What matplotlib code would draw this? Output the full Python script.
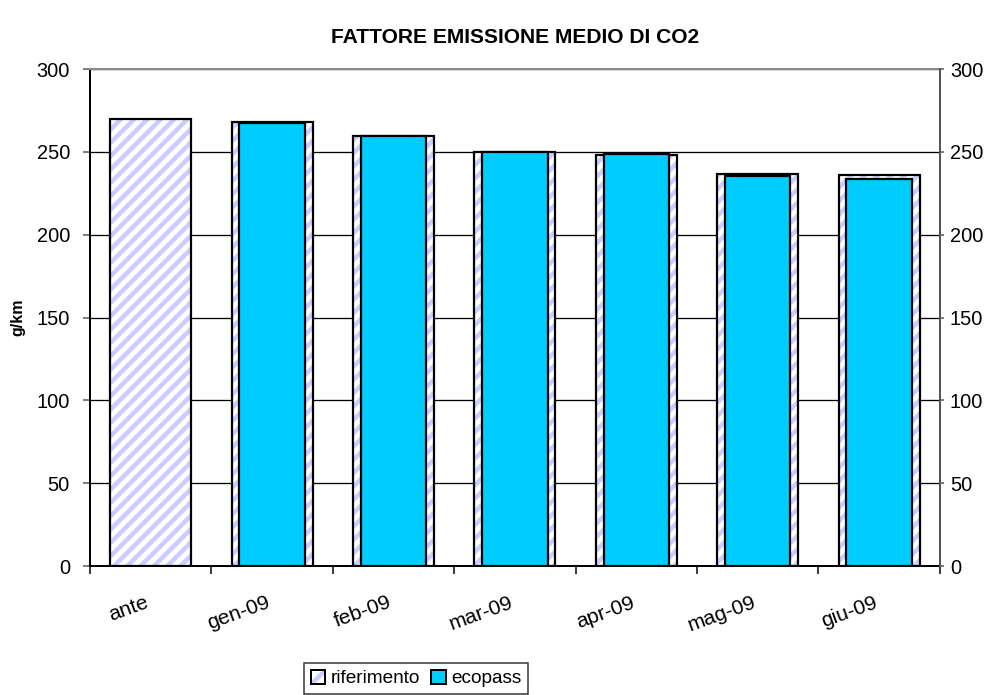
import numpy as np
import matplotlib.pyplot as plt
from matplotlib.patches import Patch
from matplotlib.transforms import ScaledTranslation

DPI = 160


def pt(px):
    """pixels -> points at the output dpi"""
    return px * 72.0 / DPI


plt.rcParams['font.family'] = ['Liberation Sans', 'DejaVu Sans']
plt.rcParams['hatch.linewidth'] = pt(4.5)

# data
categories = ['ante', 'gen-09', 'feb-09', 'mar-09', 'apr-09', 'mag-09', 'giu-09']
riferimento = [269.8, 267.8, 259.6, 250.0, 248.0, 236.6, 236.0]
ecopass = [np.nan, 267.6, 259.4, 249.7, 248.8, 235.6, 233.6]
yticks = [0, 50, 100, 150, 200, 250, 300]

hatch_col = '#ccccff'
eco_col = '#00ccff'

fig = plt.figure(figsize=(994 / DPI, 695 / DPI), dpi=DPI)
ax = fig.add_axes([0.0905, 0.1856, 0.855, 0.715])

x = np.arange(len(categories))

# riferimento: hatched background, then black outline on top
ax.bar(x, riferimento, width=0.667, color='white', edgecolor=hatch_col,
       hatch='////', linewidth=0, zorder=2)
ax.bar(x, riferimento, width=0.667, fill=False, edgecolor='black',
       linewidth=pt(2.2), zorder=3)
# ecopass overlaid, a bit narrower
ax.bar(x, ecopass, width=0.54, color=eco_col, edgecolor='black',
       linewidth=pt(2.2), zorder=4)

ax.set_xlim(-0.5, len(categories) - 0.5)
ax.set_ylim(0, 300)
ax.set_yticks(yticks)
ax.yaxis.grid(True, color='black', linewidth=pt(1.3), zorder=0)
ax.set_axisbelow(True)
ax.tick_params(axis='y', direction='out', length=pt(7), width=pt(1.5),
               pad=pt(13), labelsize=pt(20), color='#555555')
ax.set_ylabel('g/km', fontsize=pt(16), fontweight='bold')
ax.yaxis.set_label_coords(-0.0765, 0.5)

# secondary axis on the right, same scale
ax2 = ax.twinx()
ax2.set_ylim(0, 300)
ax2.set_yticks(yticks)
ax2.tick_params(axis='y', direction='out', length=pt(4), width=pt(1.5),
                pad=pt(6), labelsize=pt(20), color='#555555')
for side in ['left', 'bottom', 'top']:
    ax2.spines[side].set_visible(False)
ax2.spines['right'].set_color('#555555')
ax2.spines['right'].set_linewidth(pt(2))

# tick marks between categories, labels hang from the category centres
ax.set_xticks(np.arange(-0.5, len(categories)))
ax.set_xticklabels([])
ax.set_xticks(x, minor=True)
ax.set_xticklabels(categories, minor=True, rotation=20, fontsize=pt(21),
                   ha='right', va='top', rotation_mode='anchor')
ax.tick_params(axis='x', which='major', direction='out', length=pt(8),
               width=pt(1.5))
ax.tick_params(axis='x', which='minor', length=0, pad=pt(27))
shift = ScaledTranslation(-6 / DPI, 0, fig.dpi_scale_trans)
for lab in ax.get_xticklabels(minor=True):
    lab.set_transform(lab.get_transform() + shift)

ax.spines['left'].set_linewidth(pt(2))
ax.spines['bottom'].set_linewidth(pt(2))
ax.spines['right'].set_visible(False)
ax.spines['top'].set_color('#888888')
ax.spines['top'].set_linewidth(pt(2))

ax.set_title('FATTORE EMISSIONE MEDIO DI CO2', fontsize=pt(21),
             fontweight='bold', pad=pt(26))

rif_handle = (Patch(facecolor='white', edgecolor=hatch_col, hatch='///', linewidth=0),
              Patch(fill=False, edgecolor='black', linewidth=pt(2)))
eco_handle = Patch(facecolor=eco_col, edgecolor='black', linewidth=pt(2))
leg = fig.legend([rif_handle, eco_handle], ['riferimento', 'ecopass'], ncol=2,
                 loc='lower center', bbox_to_anchor=(416 / 994, -0.012),
                 fontsize=pt(19), frameon=True, fancybox=False,
                 edgecolor='black', handlelength=0.75, handleheight=0.75,
                 handletextpad=0.3, columnspacing=0.6, borderpad=0.35)
leg.get_frame().set_linewidth(pt(1.5))

fig.savefig('out.png', dpi=DPI)
